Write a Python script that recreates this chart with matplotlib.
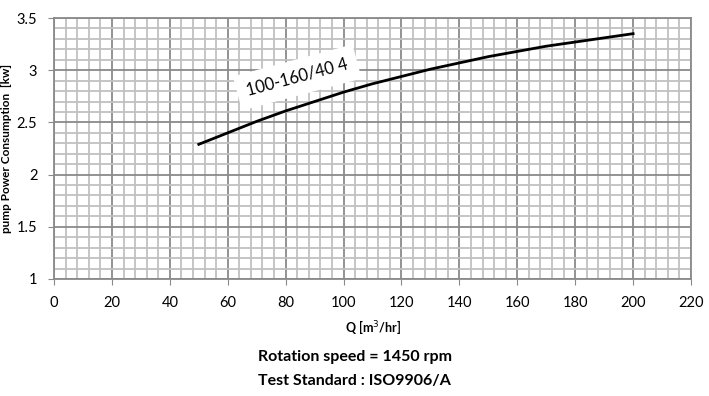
import matplotlib.pyplot as plt
import numpy as np

plt.rcParams['font.family'] = ['Lato', 'DejaVu Sans']

q = [50, 60, 70, 80, 90, 100, 110, 120, 130, 140, 150, 160, 170, 180, 190, 200]
power = [2.29, 2.40, 2.51, 2.61, 2.70, 2.79, 2.87, 2.94, 3.01, 3.07, 3.13, 3.18, 3.23, 3.27, 3.31, 3.35]
curve_label = "100-160/40 4"

fig = plt.figure(figsize=(7.09, 3.96), dpi=100)
ax = fig.add_axes([0.0762, 0.2955, 0.8984, 0.659])

ax.plot(q, power, color="black", lw=2, zorder=3)

ax.set_xlim(0, 220)
ax.set_ylim(1, 3.5)
ax.set_xticks(np.arange(0, 221, 20))
ax.set_yticks(np.arange(1, 3.51, 0.5))
ax.set_yticklabels(["1", "1.5", "2", "2.5", "3", "3.5"])
ax.set_xticks(np.arange(0, 221, 4), minor=True)
ax.set_yticks(np.arange(1, 3.51, 0.1), minor=True)
ax.grid(which="minor", color="#c0c0c0", lw=1.3)
ax.grid(which="major", color="#8a8a8a", lw=1.3)
ax.set_axisbelow(True)
ax.tick_params(which="minor", length=0)
ax.tick_params(which="major", length=4, color="#8a8a8a", labelsize=10.5)
ax.tick_params(axis="x", pad=8)
ax.tick_params(axis="y", pad=8)
for s in ax.spines.values():
    s.set_color("#8a8a8a")
    s.set_linewidth(1.3)

ax.text(84, 2.93, curve_label, rotation=15, ha="center", va="center", fontsize=12,
        bbox=dict(facecolor="white", edgecolor="none", pad=7), zorder=4)

ax.set_xlabel("Q [m$^3$/hr]", fontsize=9, fontweight="bold", labelpad=6)
ax.set_ylabel("pump Power Consumption  [kw]", fontsize=8.5, fontweight="bold")
ax.yaxis.set_label_coords(-0.066, 0.5)

fig.text(0.5, 0.098, "Rotation speed = 1450 rpm", ha="center", va="center",
         fontsize=11.5, fontweight="bold")
fig.text(0.5, 0.038, "Test Standard : ISO9906/A", ha="center", va="center",
         fontsize=11.5, fontweight="bold")

fig.savefig("out.png", dpi=100)
